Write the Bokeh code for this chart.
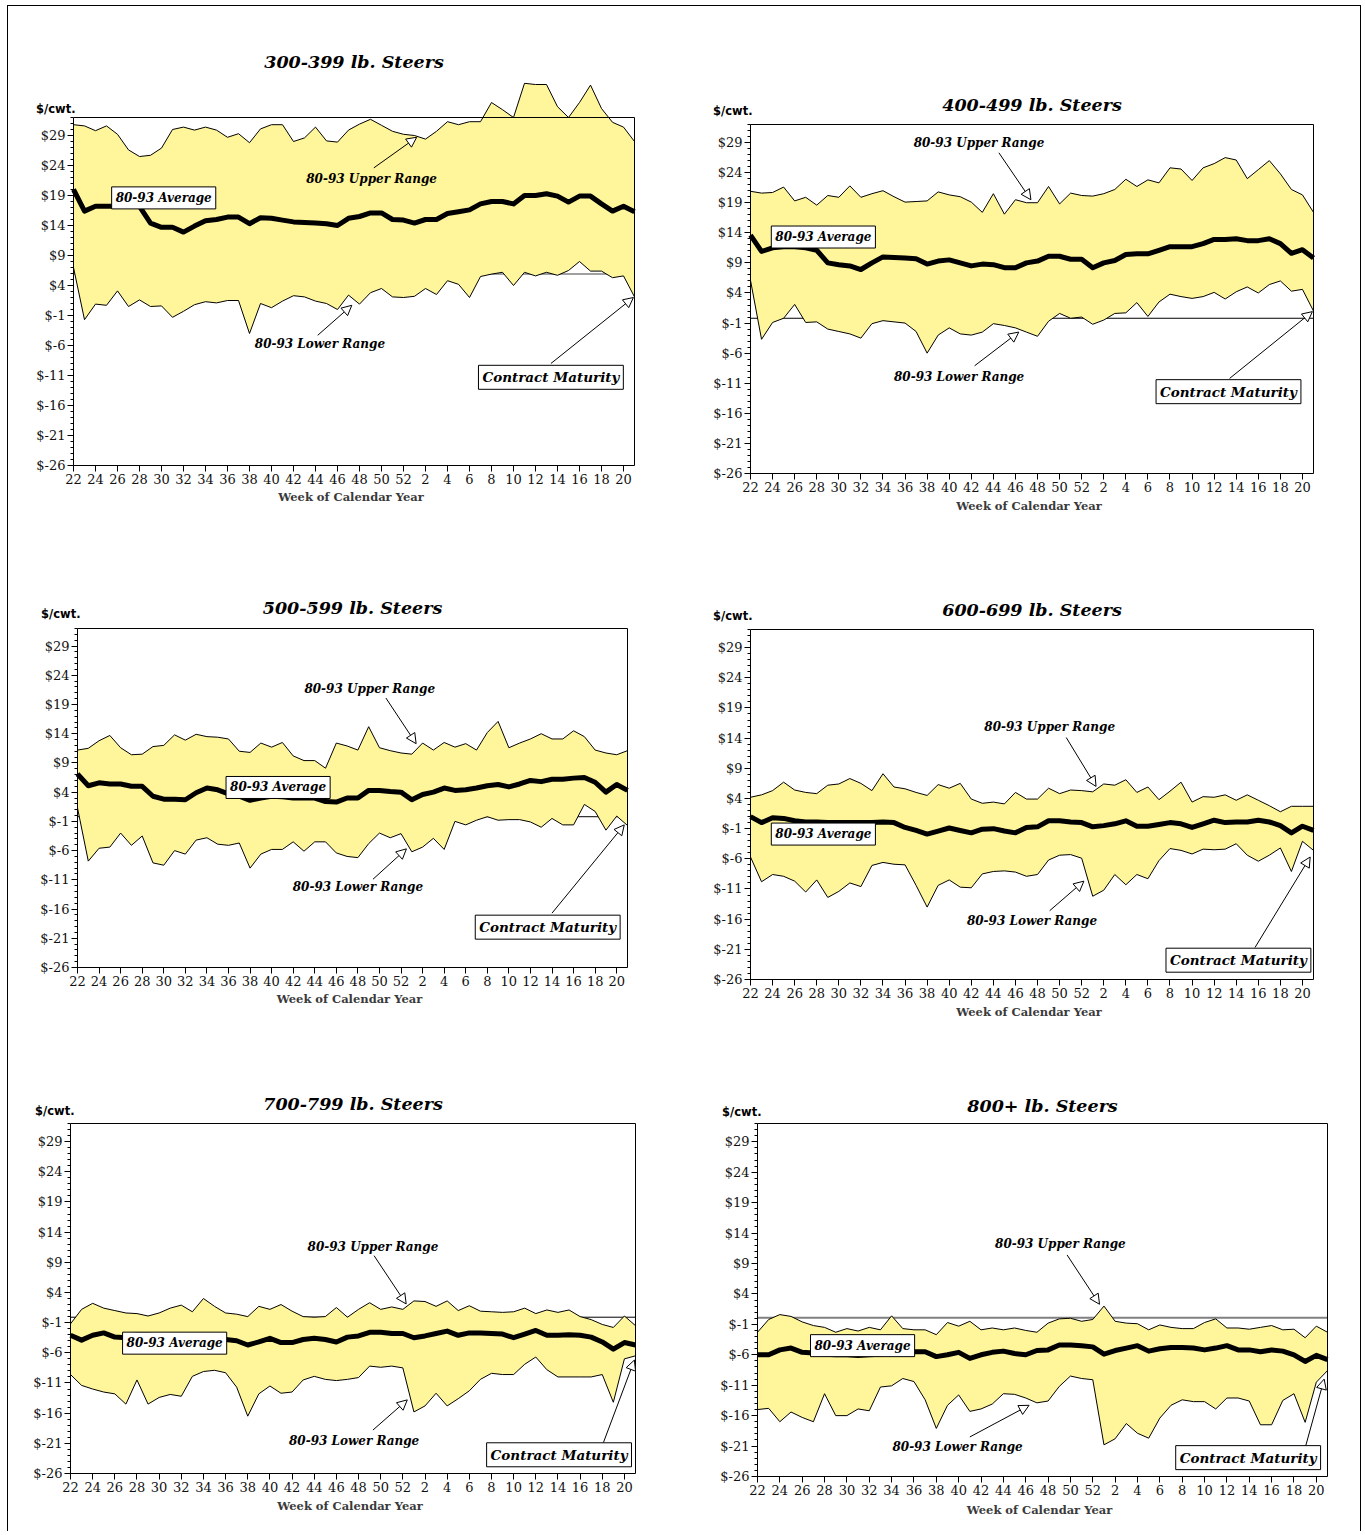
from bokeh.plotting import figure
from bokeh.layouts import column, row
from bokeh.models import Range1d, FixedTicker, Label, Arrow, NormalHead
from bokeh.embed import file_html
from bokeh.resources import INLINE

# ---------------- data ----------------
weeks = list(range(22, 53)) + list(range(1, 22))
idx = list(range(len(weeks)))
y_ticks = list(range(-26, 30, 5))
y_min, y_max = -26, 32

titles = ["300-399 lb. Steers", "400-499 lb. Steers", "500-599 lb. Steers",
          "600-699 lb. Steers", "700-799 lb. Steers", "800+ lb. Steers"]

p1_upper = [30.8, 30.6, 29.8, 30.6, 29.2, 26.6, 25.5, 25.7, 26.9, 30.0,
            30.4, 29.9, 30.4, 29.9, 28.7, 29.3, 27.8, 30.1, 30.8, 30.8,
            28.0, 28.6, 30.4, 28.1, 27.9, 29.9, 30.9, 31.7, 30.7, 29.7,
            29.2, 29.0, 28.4, 29.7, 31.3, 30.8, 31.3, 31.3, 34.5, 33.3,
            32.0, 37.7, 37.5, 37.5, 33.8, 32.0, 34.5, 37.4, 33.5, 31.2,
            30.4, 28.0]
p1_avg = [20.0, 16.4, 17.2, 17.2, 17.2, 17.2, 17.2, 14.4, 13.7, 13.7,
          12.9, 13.9, 14.8, 15.0, 15.4, 15.4, 14.3, 15.3, 15.2, 14.9,
          14.6, 14.5, 14.4, 14.3, 14.0, 15.2, 15.5, 16.1, 16.1, 15.0,
          14.9, 14.4, 15.0, 15.0, 16.0, 16.3, 16.6, 17.6, 18.0, 18.0,
          17.6, 19.0, 19.0, 19.3, 18.9, 17.9, 18.9, 18.9, 17.6, 16.4,
          17.2, 16.3]
p1_lower = [7.0, -1.7, 0.9, 0.7, 3.1, 0.5, 1.6, 0.5, 0.6, -1.3,
            -0.3, 0.8, 1.3, 1.1, 1.5, 1.5, -4.0, 1.0, 0.3, 1.4,
            2.3, 2.1, 1.4, 1.0, 0.0, 2.4, 0.9, 2.8, 3.5, 2.1,
            2.0, 2.2, 3.5, 2.5, 4.8, 4.2, 2.0, 5.5, 5.9, 6.2,
            4.0, 6.2, 5.6, 6.2, 5.7, 6.5, 8.0, 6.4, 6.4, 5.3,
            5.6, 2.1]

p2_upper = [20.9, 20.6, 20.7, 21.6, 19.3, 19.9, 18.6, 20.2, 19.9, 21.8,
            19.9, 20.5, 21.0, 20.0, 19.1, 19.2, 19.3, 20.8, 20.3, 20.0,
            19.1, 17.4, 20.5, 17.1, 19.5, 19.0, 19.0, 21.7, 18.8, 20.6,
            20.2, 20.1, 20.5, 21.2, 22.9, 21.7, 22.8, 22.3, 24.8, 24.6,
            22.7, 24.8, 25.5, 26.5, 26.1, 23.0, 24.5, 26.0, 23.8, 21.2,
            20.3, 17.4]
p2_avg = [13.6, 10.9, 11.5, 11.7, 11.7, 11.5, 11.1, 9.0, 8.7, 8.5,
          7.9, 9.0, 10.0, 9.9, 9.8, 9.7, 8.8, 9.3, 9.5, 9.0,
          8.5, 8.8, 8.7, 8.2, 8.2, 9.0, 9.3, 10.1, 10.1, 9.6,
          9.6, 8.2, 9.0, 9.4, 10.4, 10.5, 10.5, 11.1, 11.7, 11.7,
          11.7, 12.2, 12.9, 12.9, 13.0, 12.7, 12.7, 13.0, 12.2, 10.6,
          11.2, 9.8]
p2_lower = [6.1, -3.7, -0.9, -0.2, 2.1, -0.9, -0.8, -2.0, -2.4, -2.8,
            -3.5, -1.1, -0.6, -0.8, -1.0, -2.4, -6.0, -3.0, -1.8, -2.8,
            -3.0, -2.5, -1.1, -1.4, -1.8, -2.5, -3.2, -0.7, 0.6, -0.2,
            0.0, -1.2, -0.5, 0.6, 0.7, 2.4, 0.1, 2.5, 3.8, 3.4,
            3.1, 3.4, 4.1, 3.0, 4.2, 5.0, 4.0, 5.4, 6.0, 4.3,
            4.6, 1.0]

p3_upper = [11.2, 11.5, 12.8, 13.7, 11.6, 10.4, 10.5, 11.8, 12.0, 13.8,
            12.9, 13.9, 13.5, 13.4, 13.1, 11.0, 10.8, 12.4, 11.7, 12.5,
            10.2, 9.4, 9.4, 8.1, 12.4, 11.9, 11.2, 15.2, 11.6, 11.1,
            10.7, 10.5, 12.4, 11.2, 12.5, 11.7, 12.3, 11.2, 14.2, 16.1,
            11.6, 12.4, 13.1, 14.0, 13.1, 13.1, 14.5, 13.5, 11.2, 10.7,
            10.4, 11.1]
p3_avg = [7.1, 5.1, 5.6, 5.4, 5.4, 5.0, 5.0, 3.3, 2.8, 2.8,
          2.7, 3.9, 4.7, 4.4, 3.7, 3.3, 2.6, 3.0, 3.3, 3.2,
          3.0, 3.0, 3.0, 2.4, 2.3, 3.0, 3.0, 4.3, 4.3, 4.1,
          4.0, 2.7, 3.6, 4.0, 4.7, 4.3, 4.4, 4.7, 5.1, 5.3,
          4.9, 5.4, 6.0, 5.8, 6.2, 6.2, 6.4, 6.5, 5.7, 4.0,
          5.3, 4.3]
p3_lower = [1.3, -7.8, -5.6, -5.4, -3.0, -5.1, -3.5, -8.1, -8.5, -6.0,
            -6.6, -4.2, -3.8, -4.9, -5.1, -4.7, -9.0, -6.6, -5.8, -5.8,
            -4.5, -6.1, -4.5, -4.5, -6.4, -7.0, -7.2, -4.8, -3.0, -3.8,
            -3.1, -6.2, -5.4, -3.9, -5.8, -1.0, -1.6, -0.8, -0.2, -0.8,
            -0.7, -0.7, -1.1, -2.0, -0.5, -1.6, -1.6, 1.9, 0.7, -2.5,
            -0.1, -1.7]

p4_upper = [4.2, 4.6, 5.3, 6.7, 5.4, 5.0, 4.8, 6.2, 6.4, 7.3,
            6.5, 5.3, 8.1, 5.9, 5.6, 5.0, 4.5, 6.3, 5.7, 6.5,
            3.9, 3.2, 3.4, 3.1, 5.0, 3.9, 3.9, 5.7, 4.8, 5.4,
            5.3, 5.1, 6.4, 6.2, 7.1, 5.0, 5.9, 3.8, 5.2, 6.7,
            3.4, 4.3, 4.2, 4.6, 3.7, 4.6, 3.7, 2.8, 1.8, 2.7,
            2.7, 2.7]
p4_avg = [1.0, 0.0, 0.8, 0.7, 0.3, 0.1, 0.1, 0.0, 0.0, 0.0,
          0.0, 0.0, 0.1, 0.0, -0.8, -1.3, -1.9, -1.4, -0.9, -1.3,
          -1.7, -1.1, -1.0, -1.4, -1.7, -0.8, -0.7, 0.3, 0.3, 0.1,
          0.0, -0.7, -0.5, -0.2, 0.3, -0.6, -0.6, -0.3, 0.0, -0.2,
          -0.8, -0.2, 0.4, 0.0, 0.1, 0.1, 0.4, 0.1, -0.5, -1.7,
          -0.6, -1.3]
p4_lower = [-5.7, -9.8, -8.6, -8.9, -9.7, -11.5, -9.5, -12.4, -11.4, -10.0,
            -10.6, -7.1, -6.6, -6.9, -7.0, -10.4, -14.0, -10.4, -9.5, -10.7,
            -10.8, -8.5, -8.1, -8.0, -8.2, -8.9, -8.6, -6.2, -5.4, -5.3,
            -5.9, -12.2, -11.2, -8.6, -10.3, -8.6, -9.3, -6.3, -4.3, -4.6,
            -5.2, -4.4, -4.5, -4.4, -3.5, -5.4, -6.4, -5.4, -4.2, -8.1,
            -3.1, -4.6]

p5_upper = [-1.2, 1.2, 2.2, 1.4, 1.0, 0.6, 0.5, 0.1, 0.6, 1.4,
            1.9, 0.8, 3.0, 1.7, 0.6, 0.4, 0.0, 1.7, 1.2, 2.0,
            0.9, 0.0, -0.1, 0.0, 1.5, -0.1, 1.2, 2.3, 1.2, 1.6,
            1.2, 2.6, 2.5, 1.7, 2.6, 1.0, 1.8, 0.9, 0.8, 0.7,
            0.8, 1.4, 0.5, 1.1, 0.7, 1.1, 0.0, -0.5, -1.3, -1.8,
            0.1, -1.5]
p5_avg = [-3.1, -3.9, -3.1, -2.7, -3.4, -3.5, -3.0, -3.0, -3.4, -3.6,
          -3.3, -3.5, -3.4, -3.6, -3.8, -4.0, -4.7, -4.2, -3.6, -4.3,
          -4.3, -3.8, -3.6, -3.8, -4.2, -3.4, -3.2, -2.6, -2.6, -2.8,
          -2.8, -3.5, -3.2, -2.8, -2.4, -3.1, -2.7, -2.7, -2.8, -2.9,
          -3.5, -2.9, -2.3, -3.1, -3.1, -3.0, -3.1, -3.4, -4.2, -5.4,
          -4.3, -4.7]
p5_lower = [-9.6, -11.4, -12.0, -12.5, -12.8, -14.5, -10.5, -14.5, -13.4, -12.9,
            -13.2, -9.9, -9.1, -8.9, -9.3, -11.7, -16.5, -12.8, -11.5, -12.7,
            -12.5, -10.5, -9.9, -10.4, -10.6, -10.4, -10.1, -8.2, -8.4, -8.2,
            -8.5, -15.8, -14.8, -12.7, -14.8, -13.6, -12.3, -10.4, -9.4, -9.6,
            -9.6, -7.9, -6.7, -8.8, -10.0, -10.0, -10.0, -10.0, -9.6, -14.2,
            -7.0, -6.5]

p6_upper = [-2.3, -0.2, 0.6, 0.3, -0.6, -1.2, -1.5, -2.3, -1.7, -2.1,
            -1.5, -1.9, 0.4, -1.7, -1.9, -1.9, -2.7, -0.7, -1.3, -0.5,
            -1.9, -1.6, -1.9, -1.6, -2.0, -2.3, -0.8, -0.1, 0.0, -0.5,
            -0.2, 2.0, -0.5, -0.8, -0.9, -1.9, -1.1, -1.5, -1.7, -1.7,
            -0.7, -0.1, -1.6, -1.6, -1.8, -1.5, -1.2, -1.9, -1.8, -3.2,
            -1.3, -2.3]
p6_avg = [-6.0, -6.0, -5.2, -4.9, -5.6, -5.7, -5.9, -6.0, -6.0, -6.1,
          -6.0, -5.9, -5.5, -5.6, -5.5, -5.5, -6.3, -6.0, -5.6, -6.6,
          -6.0, -5.6, -5.4, -5.8, -6.0, -5.3, -5.2, -4.4, -4.4, -4.5,
          -4.7, -5.9, -5.3, -4.9, -4.5, -5.4, -5.0, -4.8, -4.8, -4.9,
          -5.2, -4.9, -4.5, -5.2, -5.2, -5.5, -5.2, -5.4, -6.0, -7.1,
          -6.1, -6.8]
p6_lower = [-15.0, -14.8, -17.0, -15.4, -16.3, -17.0, -12.4, -16.0, -16.0, -14.9,
            -15.2, -11.3, -11.1, -9.9, -10.4, -13.4, -18.1, -14.3, -12.6, -15.3,
            -14.9, -14.1, -12.4, -12.5, -13.1, -13.9, -13.6, -11.2, -9.5, -9.9,
            -10.1, -20.8, -19.8, -17.3, -18.9, -19.7, -16.4, -14.3, -13.4, -13.7,
            -13.7, -14.9, -13.1, -13.1, -13.6, -17.5, -17.5, -13.5, -12.4, -17.1,
            -10.5, -8.6]

# contract-maturity reference level per panel
maturity_level = [5.9, -0.2, -0.2, 0.0, -0.1, 0.1]

series = [(p1_upper, p1_avg, p1_lower), (p2_upper, p2_avg, p2_lower),
          (p3_upper, p3_avg, p3_lower), (p4_upper, p4_avg, p4_lower),
          (p5_upper, p5_avg, p5_lower), (p6_upper, p6_avg, p6_lower)]

# ---------------- styling / layout ----------------
YELLOW = "#FFF59A"
SERIF = "DejaVu Serif"

# page geometry (px): canvas origin/size and plotting box edges
canvas = [(8, 6, 682, 516), (690, 6, 670, 516),
          (8, 522, 682, 504), (690, 522, 670, 504),
          (8, 1026, 682, 505), (690, 1026, 670, 505)]
box = [(73, 634, 117, 465), (750, 1313, 124, 473),
       (77, 627, 628, 967), (750, 1313, 629, 979),
       (70, 635, 1123, 1473), (757, 1327, 1123, 1476)]
# offsets (px): title above box, unit label above box, unit label right edge from box left,
# axis title below box
text_off = [(56, 9, 2, 31), (20, 14, 2, 32), (21, 15, 3, 31),
            (20, 14, 2, 32), (20, 13, 4, 32), (18, 12, 4, 33)]
ref_style = [("#808080", 1.5), ("black", 1), ("black", 1), ("black", 1),
             ("black", 1), ("#808080", 2)]

annots = [
    dict(up=(27.1, 21.8), upa=(27.3, 23.6, 31.2, 28.7), av=(8.2, 18.6),
         lo=(22.4, -5.8), loa=(22.2, -4.3, 25.3, 0.7), cm=(43.4, -11.3), cma=(43.4, -9.0, 50.9, 2.0)),
    dict(up=(20.7, 28.9), upa=(22.5, 27.3, 25.4, 19.5), av=(6.6, 13.3),
         lo=(18.9, -10.0), loa=(20.3, -8.1, 24.3, -2.5), cm=(43.3, -12.4), cma=(43.4, -10.2, 50.9, 0.9)),
    dict(up=(27.1, 21.7), upa=(28.6, 20.1, 31.4, 12.3), av=(18.6, 4.8),
         lo=(26.0, -12.2), loa=(27.4, -10.9, 30.5, -5.7), cm=(43.6, -19.1), cma=(44.0, -16.7, 50.7, -1.6)),
    dict(up=(27.1, 15.8), upa=(28.6, 14.1, 31.3, 6.0), av=(6.6, -1.9),
         lo=(25.5, -16.3), loa=(27.1, -14.6, 30.2, -9.7), cm=(44.2, -22.8), cma=(45.7, -20.7, 50.7, -5.7)),
    dict(up=(27.3, 11.6), upa=(27.4, 10.1, 30.3, 2.1), av=(9.4, -4.4),
         lo=(25.6, -20.6), loa=(27.3, -18.8, 30.4, -13.8), cm=(44.1, -22.9), cma=(48.1, -20.9, 50.9, -7.2)),
    dict(up=(27.1, 12.2), upa=(27.7, 10.4, 30.6, 2.3), av=(9.4, -4.5),
         lo=(17.9, -21.2), loa=(19.0, -19.5, 24.3, -14.3), cm=(43.9, -22.9), cma=(49.0, -21.3, 50.7, -10.0)),
]


def add_text(p, x, y, text, size, align="center", boxed=False, font=SERIF,
             style="bold italic", color="black"):
    if boxed:
        p.add_layout(Label(x=x, y=y, text=text, x_offset=2, y_offset=-2,
                           text_font=font, text_font_size=size, text_font_style=style,
                           text_align=align, text_baseline="middle", text_alpha=0,
                           background_fill_color="black", border_line_color="black",
                           padding=4))
        p.add_layout(Label(x=x, y=y, text=text, text_font=font, text_font_size=size,
                           text_font_style=style, text_align=align, text_baseline="middle",
                           text_color=color, background_fill_color="white",
                           border_line_color="black", border_line_width=1, padding=4))
    else:
        p.add_layout(Label(x=x, y=y, text=text, text_font=font, text_font_size=size,
                           text_font_style=style, text_align=align, text_baseline="middle",
                           text_color=color))


def add_arrow(p, a):
    p.add_layout(Arrow(end=NormalHead(size=10, fill_color="white", line_color="black",
                                      line_width=1),
                       x_start=a[0], y_start=a[1], x_end=a[2], y_end=a[3],
                       line_color="black", line_width=1))


def make_panel(k):
    x0, y0, w, h = canvas[k]
    L, R, T, B = box[k]
    upper, avg, lower = series[k]
    x_lo, x_hi = idx[0], idx[-1]
    sx = (R - L) / (x_hi - x_lo)          # px per week
    sy = (B - T) / (y_max - y_min)        # px per $
    xr = Range1d(x_lo - (L - x0) / sx, x_hi + (x0 + w - R) / sx)
    yr = Range1d(y_min - (y0 + h - B) / sy, y_max + (T - y0) / sy)

    p = figure(width=w, height=h, x_range=xr, y_range=yr, title=None,
               output_backend="svg", toolbar_location=None,
               min_border_left=0, min_border_right=0,
               min_border_top=0, min_border_bottom=0)
    p.grid.visible = False
    p.background_fill_color = "white"
    p.border_fill_color = "white"
    p.outline_line_color = None

    # axes (pinned to the plotting box)
    p.xaxis.fixed_location = y_min
    p.xaxis.bounds = (x_lo, x_hi)
    p.yaxis.fixed_location = x_lo
    p.yaxis.bounds = (y_min, y_max)
    p.xaxis.ticker = FixedTicker(ticks=idx[0::2], minor_ticks=[])
    p.xaxis.major_label_overrides = {i: str(weeks[i]) for i in idx[0::2]}
    p.yaxis.ticker = FixedTicker(ticks=y_ticks, minor_ticks=list(range(y_min, y_max + 1)))
    p.yaxis.major_label_overrides = {t: "$%d" % t for t in y_ticks}
    for ax in (p.xaxis, p.yaxis):
        ax.major_label_text_font = SERIF
        ax.major_label_text_font_size = "13px"
        ax.major_label_text_color = "#111111"
        ax.major_tick_out = 6
        ax.major_tick_in = 0
        ax.minor_tick_out = 3
        ax.minor_tick_in = 0
        ax.axis_line_color = "black"
        ax.major_label_standoff = 2

    # maturity reference line (beneath the band)
    col, lw = ref_style[k]
    p.line([x_lo, x_hi], [maturity_level[k]] * 2, line_color=col, line_width=lw)

    p.varea(x=idx, y1=lower, y2=upper, fill_color=YELLOW, fill_alpha=1)
    p.line(idx, upper, line_color="black", line_width=1)
    p.line(idx, lower, line_color="black", line_width=1)
    p.line(idx, avg, line_color="black", line_width=5, line_join="round")

    # box top and right edges
    p.line([x_lo, x_hi, x_hi], [y_max, y_max, y_min], line_color="black", line_width=1)

    a = annots[k]
    add_text(p, a["up"][0], a["up"][1], "80-93 Upper Range", "12px")
    add_arrow(p, a["upa"])
    add_text(p, a["lo"][0], a["lo"][1], "80-93 Lower Range", "12px")
    add_arrow(p, a["loa"])
    add_arrow(p, a["cma"])
    add_text(p, a["av"][0], a["av"][1], "80-93 Average", "12px", boxed=True)
    add_text(p, a["cm"][0], a["cm"][1], "Contract Maturity", "13.5px", boxed=True)

    t_above, u_above, u_right, ax_below = text_off[k]
    mid = (x_lo + x_hi) / 2
    add_text(p, mid, y_max + t_above / sy, titles[k], "17.5px")
    add_text(p, x_lo + u_right / sx, y_max + u_above / sy, "$/cwt.", "11.5px",
             align="right", font="DejaVu Sans", style="bold")
    add_text(p, mid - 3 / sx, y_min - ax_below / sy, "Week of Calendar Year", "11.5px",
             style="bold", color="#3a3a3a")
    return p


panels = [make_panel(k) for k in range(6)]
layout = column(row(panels[0], panels[1]), row(panels[2], panels[3]),
                row(panels[4], panels[5]),
                styles={"border-top": "1px solid black", "border-left": "1px solid black",
                        "border-right": "1px solid black", "margin-left": "7px",
                        "margin-top": "5px"})

open("out.html", "w").write(file_html(layout, INLINE))
